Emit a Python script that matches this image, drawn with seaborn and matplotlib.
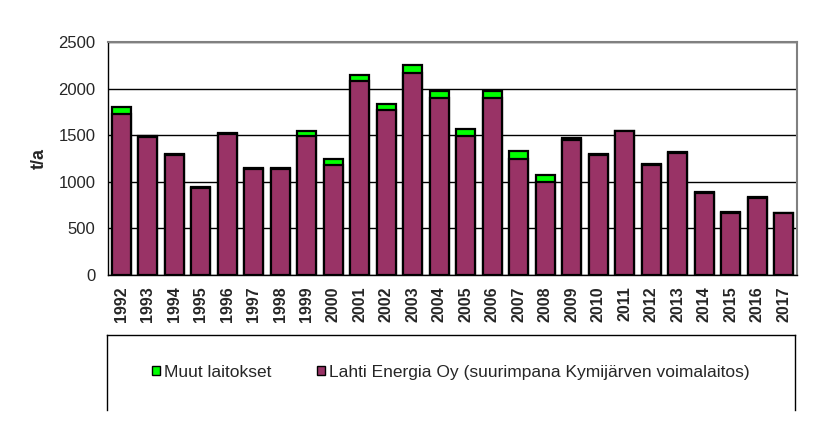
import numpy as np
import pandas as pd
import matplotlib
matplotlib.use("Agg")
import matplotlib.pyplot as plt
import seaborn as sns
from matplotlib.patches import Patch

# values (t/a)
years = [str(y) for y in range(1992, 2018)]
lahti = [1730, 1480, 1290, 935, 1515, 1140, 1140, 1490, 1175, 2085, 1775, 2170, 1900,
         1495, 1895, 1240, 1000, 1445, 1290, 1540, 1185, 1310, 880, 670, 830, 665]
muut = [75, 10, 10, 10, 10, 10, 10, 60, 75, 65, 65, 80, 70,
        70, 75, 90, 70, 30, 5, 10, 3, 10, 10, 3, 3, 0]

green = "#00FF00"
purple = "#993366"

df = pd.DataFrame({"year": years, "lahti": lahti, "muut": muut})
df["total"] = df["lahti"] + df["muut"]

sns.set_style("white")
plt.rcParams["font.family"] = ["Liberation Sans", "DejaVu Sans"]

fig = plt.figure(figsize=(8.25, 4.25), dpi=100)
ax = fig.add_axes([108 / 825, 1 - 275 / 425, 689 / 825, 233 / 425])

# stacked bars: totals first, Lahti on top of them
sns.barplot(data=df, x="year", y="total", color=green, saturation=1,
            edgecolor="black", linewidth=1.6, width=0.72, ax=ax)
sns.barplot(data=df, x="year", y="lahti", color=purple, saturation=1,
            edgecolor="black", linewidth=1.6, width=0.72, ax=ax)

ax.set_xlim(-0.5, len(years) - 0.5)
ax.set_ylim(0, 2500)
ax.set_yticks(np.arange(0, 2501, 500))
ax.set_axisbelow(True)
ax.yaxis.grid(True, color="black", linewidth=1)

ax.set_xlabel("")
ax.set_ylabel("t/a", fontsize=13, fontweight="bold", labelpad=8)

ax.set_xticks(np.arange(len(years)))
ax.set_xticklabels(years, rotation=90, fontsize=11.5, fontweight="bold")
ax.set_xticks(np.arange(-0.5, len(years), 1), minor=True)
ax.tick_params(axis="x", which="major", length=0, pad=8)
ax.tick_params(axis="x", which="minor", length=5, width=1, color="black", direction="out")
ax.tick_params(axis="y", length=5, width=1, color="black", direction="out", labelsize=12, pad=4)

for side in ["left", "bottom"]:
    ax.spines[side].set_color("black")
    ax.spines[side].set_linewidth(1)
for side in ["top", "right"]:
    ax.spines[side].set_color("#808080")
    ax.spines[side].set_linewidth(1.5)

# legend box under the chart
lax = fig.add_axes([107 / 825, 15 / 425, 688 / 825, 75 / 425])
lax.set_xticks([])
lax.set_yticks([])
lax.spines["bottom"].set_visible(False)
for side in ["left", "top", "right"]:
    lax.spines[side].set_color("black")
    lax.spines[side].set_linewidth(1)

handles = [Patch(facecolor=green, edgecolor="black", linewidth=1),
           Patch(facecolor=purple, edgecolor="black", linewidth=1)]
labels = ["Muut laitokset", "Lahti Energia Oy (suurimpana Kymijärven voimalaitos)"]
lax.legend(handles, labels, loc="center", ncol=2, frameon=False, fontsize=12.5,
           handlelength=0.45, handleheight=0.45, handletextpad=0.25, columnspacing=2.6)

fig.savefig("out.png", dpi=100)
